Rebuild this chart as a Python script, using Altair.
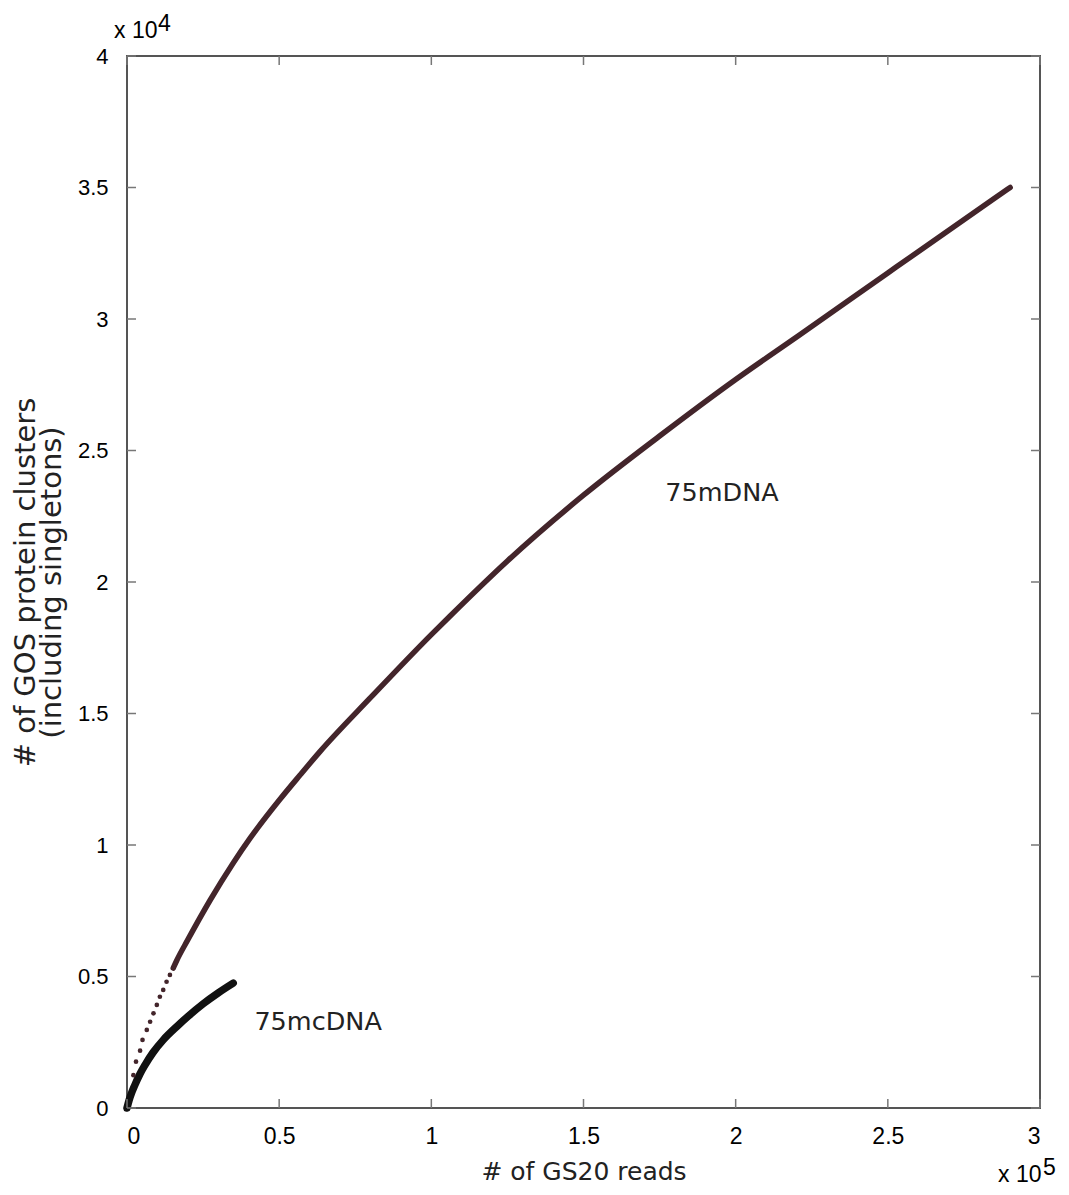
import altair as alt
import pandas as pd

# ---- data ----
# 75mcDNA curve (reads, clusters)
mc_x = [0, 700, 1500, 2500, 4300, 6000, 8500, 12000, 16400, 20000, 25000, 30000, 34900]
mc_y = [0, 300, 570, 850, 1300, 1650, 2100, 2600, 3100, 3480, 3960, 4380, 4750]

# 75mDNA curve, sparse dotted start
md_dot_x = [2100, 2960, 4300, 5100, 6500, 7600, 8700, 9800, 10800, 11900, 13000, 14100, 15200]
md_dot_y = [1250, 1760, 2180, 2590, 2970, 3280, 3600, 3920, 4230, 4490, 4800, 5060, 5320]

# 75mDNA curve, dense part
md_x = [15200, 16300, 20000, 27300, 34800, 40400, 50000, 56800, 63400, 80000, 100000,
        106100, 125000, 150000, 175000, 200000, 221100, 250000, 284600, 290200]
md_y = [5320, 5600, 6400, 7900, 9300, 10250, 11700, 12650, 13550, 15600, 18000,
        18700, 20800, 23300, 25550, 27700, 29400, 31750, 34550, 35000]

x_ticks = [0, 50000, 100000, 150000, 200000, 250000, 300000]
y_ticks = [0, 5000, 10000, 15000, 20000, 25000, 30000, 35000, 40000]

series_labels = ["75mDNA", "75mcDNA"]
label_x = [195500, 62800]
label_y = [23400, 3270]

W, H = 913, 1052
TICK = 9

mc = pd.DataFrame({"x": mc_x, "y": mc_y})
md = pd.DataFrame({"x": md_x, "y": md_y})
mdd = pd.DataFrame({"x": md_dot_x, "y": md_dot_y})
xt = pd.DataFrame({"v": x_ticks})
yt = pd.DataFrame({"v": y_ticks})
lab = pd.DataFrame({"t": series_labels, "x": label_x, "y": label_y})

xscale = alt.Scale(domain=[0, 300000], nice=False, zero=False)
yscale = alt.Scale(domain=[0, 40000], nice=False, zero=False)

LABEL_FONT = "Liberation Sans"
TITLE_FONT = "DejaVu Sans"

x_axis = alt.Axis(values=x_ticks, labelExpr="datum.value / 100000", ticks=False,
                  domain=False, grid=False, title="# of GS20 reads",
                  labelFont=LABEL_FONT, labelFontSize=23, labelColor="#000",
                  labelPadding=17, titleFont=TITLE_FONT, titleFontSize=25,
                  titleFontWeight="normal", titleColor="#222", titlePadding=11)
y_axis = alt.Axis(values=y_ticks, labelExpr="datum.value / 10000", ticks=False,
                  domain=False, grid=False,
                  title=["# of GOS protein clusters", "(including singletons)"],
                  labelFont=LABEL_FONT, labelFontSize=22, labelColor="#000",
                  labelPadding=19, titleFont=TITLE_FONT, titleFontSize=29,
                  titleFontWeight="normal", titleColor="#222", titlePadding=11,
                  titleLineHeight=26)


def X(field):
    return alt.X(field, scale=xscale, axis=x_axis)


def Y(field):
    return alt.Y(field, scale=yscale, axis=y_axis)


MAIN_COLOR = "#43252b"

mc_line = alt.Chart(mc).mark_line(color="#111", strokeWidth=7.5, strokeCap="round",
                                  interpolate="monotone").encode(
    x=X("x:Q"), y=Y("y:Q"))

md_line = alt.Chart(md).mark_line(color=MAIN_COLOR, strokeWidth=5.5, strokeCap="round",
                                  interpolate="monotone").encode(
    x=X("x:Q"), y=Y("y:Q"))

md_dots = alt.Chart(mdd).mark_circle(color=MAIN_COLOR, size=22, opacity=1).encode(
    x=X("x:Q"), y=Y("y:Q"))

labels = alt.Chart(lab).mark_text(font=TITLE_FONT, fontSize=25.5, color="#222",
                                  align="center", baseline="middle").encode(
    x=X("x:Q"), y=Y("y:Q"), text="t:N")

tick_style = dict(color="#777", strokeWidth=1.5)
bottom_ticks = alt.Chart(xt).mark_rule(**tick_style).encode(
    x=X("v:Q"), y=alt.value(H), y2=alt.value(H - TICK))
top_ticks = alt.Chart(xt).mark_rule(**tick_style).encode(
    x=X("v:Q"), y=alt.value(0), y2=alt.value(TICK))
left_ticks = alt.Chart(yt).mark_rule(**tick_style).encode(
    y=Y("v:Q"), x=alt.value(0), x2=alt.value(TICK))
right_ticks = alt.Chart(yt).mark_rule(**tick_style).encode(
    y=Y("v:Q"), x=alt.value(W), x2=alt.value(W - TICK))

exp_df = pd.DataFrame({"base": ["x 10"], "p": ["4"], "p5": ["5"]})
EXP = dict(font=LABEL_FONT, fontSize=23, color="#000", align="left", baseline="alphabetic")
exp4_base = alt.Chart(exp_df).mark_text(**EXP).encode(
    x=alt.value(-13), y=alt.value(-18), text="base:N")
exp4_pow = alt.Chart(exp_df).mark_text(**EXP).encode(
    x=alt.value(31), y=alt.value(-25), text="p:N")
exp5_base = alt.Chart(exp_df).mark_text(**EXP).encode(
    x=alt.value(W - 42), y=alt.value(H + 74), text="base:N")
exp5_pow = alt.Chart(exp_df).mark_text(**EXP).encode(
    x=alt.value(W + 3), y=alt.value(H + 67), text="p5:N")

chart = alt.layer(
    mc_line, md_line, md_dots, labels,
    bottom_ticks, top_ticks, left_ticks, right_ticks,
    exp4_base, exp4_pow, exp5_base, exp5_pow,
).properties(
    width=W, height=H,
    padding={"left": 119, "top": 48, "right": 20, "bottom": 78},
    autosize=alt.AutoSizeParams(type="none"),
    background="white",
).configure_view(stroke="#555", strokeWidth=2)

chart.save("out.html", embed_options={"renderer": "svg", "actions": False})
